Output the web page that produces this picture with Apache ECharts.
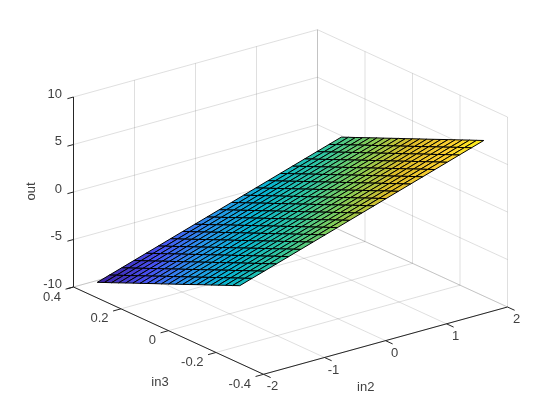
<!DOCTYPE html>
<html>
<head>
<meta charset="utf-8">
<style>html,body{margin:0;padding:0;background:#fff}#c{width:560px;height:420px}</style>
<script src="https://cdn.jsdelivr.net/npm/echarts@6/dist/echarts.min.js"></script>
</head>
<body>
<div id="c"></div>
<script>
const in2Ticks = [-2, -1, 0, 1, 2];
const in3Ticks = [-0.4, -0.2, 0, 0.2, 0.4];
const outTicks = [-10, -5, 0, 5, 10];
const in2Values = [-2, -1.8, -1.6, -1.4, -1.2, -1, -0.8, -0.6, -0.4, -0.2, 0, 0.2, 0.4, 0.6, 0.8, 1, 1.2, 1.4, 1.6, 1.8, 2];
const in3Values = [0.3, 0.27, 0.24, 0.21, 0.18, 0.15, 0.12, 0.09, 0.06, 0.03, 0, -0.03, -0.06, -0.09, -0.12, -0.15, -0.18, -0.21, -0.24, -0.27, -0.3];
// one row per in2 value, one column per in3 value
const outValues = [
[-8.36,-8.03,-7.71,-7.38,-7.05,-6.72,-6.40,-6.07,-5.74,-5.42,-5.09,-4.76,-4.44,-4.11,-3.78,-3.45,-3.13,-2.80,-2.47,-2.15,-1.82],
[-7.95,-7.62,-7.30,-6.97,-6.64,-6.31,-5.99,-5.66,-5.33,-5.01,-4.68,-4.35,-4.03,-3.70,-3.37,-3.04,-2.72,-2.39,-2.06,-1.74,-1.41],
[-7.54,-7.21,-6.89,-6.56,-6.23,-5.90,-5.58,-5.25,-4.92,-4.60,-4.27,-3.94,-3.62,-3.29,-2.96,-2.63,-2.31,-1.98,-1.65,-1.33,-1.00],
[-7.13,-6.80,-6.48,-6.15,-5.82,-5.49,-5.17,-4.84,-4.51,-4.19,-3.86,-3.53,-3.21,-2.88,-2.55,-2.22,-1.90,-1.57,-1.24,-0.92,-0.59],
[-6.72,-6.39,-6.07,-5.74,-5.41,-5.08,-4.76,-4.43,-4.10,-3.78,-3.45,-3.12,-2.80,-2.47,-2.14,-1.81,-1.49,-1.16,-0.83,-0.51,-0.18],
[-6.31,-5.98,-5.66,-5.33,-5.00,-4.67,-4.35,-4.02,-3.69,-3.37,-3.04,-2.71,-2.39,-2.06,-1.73,-1.40,-1.08,-0.75,-0.42,-0.10,0.23],
[-5.90,-5.57,-5.25,-4.92,-4.59,-4.26,-3.94,-3.61,-3.28,-2.96,-2.63,-2.30,-1.98,-1.65,-1.32,-0.99,-0.67,-0.34,-0.01,0.31,0.64],
[-5.49,-5.16,-4.84,-4.51,-4.18,-3.85,-3.53,-3.20,-2.87,-2.55,-2.22,-1.89,-1.57,-1.24,-0.91,-0.58,-0.26,0.07,0.40,0.72,1.05],
[-5.08,-4.75,-4.43,-4.10,-3.77,-3.44,-3.12,-2.79,-2.46,-2.14,-1.81,-1.48,-1.16,-0.83,-0.50,-0.17,0.15,0.48,0.81,1.13,1.46],
[-4.67,-4.34,-4.02,-3.69,-3.36,-3.03,-2.71,-2.38,-2.05,-1.73,-1.40,-1.07,-0.75,-0.42,-0.09,0.24,0.56,0.89,1.22,1.54,1.87],
[-4.26,-3.93,-3.61,-3.28,-2.95,-2.62,-2.30,-1.97,-1.64,-1.32,-0.99,-0.66,-0.34,-0.01,0.32,0.65,0.97,1.30,1.63,1.95,2.28],
[-3.85,-3.52,-3.20,-2.87,-2.54,-2.21,-1.89,-1.56,-1.23,-0.91,-0.58,-0.25,0.07,0.40,0.73,1.06,1.38,1.71,2.04,2.36,2.69],
[-3.44,-3.11,-2.79,-2.46,-2.13,-1.80,-1.48,-1.15,-0.82,-0.50,-0.17,0.16,0.48,0.81,1.14,1.47,1.79,2.12,2.45,2.77,3.10],
[-3.03,-2.70,-2.38,-2.05,-1.72,-1.39,-1.07,-0.74,-0.41,-0.09,0.24,0.57,0.89,1.22,1.55,1.88,2.20,2.53,2.86,3.18,3.51],
[-2.62,-2.29,-1.97,-1.64,-1.31,-0.98,-0.66,-0.33,0.00,0.32,0.65,0.98,1.30,1.63,1.96,2.29,2.61,2.94,3.27,3.59,3.92],
[-2.21,-1.88,-1.56,-1.23,-0.90,-0.57,-0.25,0.08,0.41,0.73,1.06,1.39,1.71,2.04,2.37,2.70,3.02,3.35,3.68,4.00,4.33],
[-1.80,-1.47,-1.15,-0.82,-0.49,-0.16,0.16,0.49,0.82,1.14,1.47,1.80,2.12,2.45,2.78,3.11,3.43,3.76,4.09,4.41,4.74],
[-1.39,-1.06,-0.74,-0.41,-0.08,0.25,0.57,0.90,1.23,1.55,1.88,2.21,2.53,2.86,3.19,3.52,3.84,4.17,4.50,4.82,5.15],
[-0.98,-0.65,-0.33,0.00,0.33,0.66,0.98,1.31,1.64,1.96,2.29,2.62,2.94,3.27,3.60,3.93,4.25,4.58,4.91,5.23,5.56],
[-0.57,-0.24,0.08,0.41,0.74,1.07,1.39,1.72,2.05,2.37,2.70,3.03,3.35,3.68,4.01,4.34,4.66,4.99,5.32,5.64,5.97],
[-0.16,0.17,0.49,0.82,1.15,1.48,1.80,2.13,2.46,2.78,3.11,3.44,3.76,4.09,4.42,4.75,5.07,5.40,5.73,6.05,6.38]
];
const in2Name = 'in2', in3Name = 'in3', outName = 'out';

// Orthographic view of the box: screen position of the near floor corner and the per-axis spans
const view = { ox: 263.5, oy: 374.3, in2: [244, -67.3], in3: [-190, -87.3], out: [0, -190] };
const parula = [[62,38,168],[72,82,244],[39,150,235],[8,181,208],[49,198,159],[129,204,89],[220,189,41],[252,207,48],[249,251,20]];
const INK = '#262626', GRID = 'rgba(38,38,38,0.15)', TEXT = '#404040', FONT = '13px "Liberation Sans", Arial, sans-serif';

function project(a, b, c) {
  const u = (a + 2) / 4, v = (b + 0.4) / 0.8, w = (c + 10) / 20;
  return [view.ox + u * view.in2[0] + v * view.in3[0] + w * view.out[0],
          view.oy + u * view.in2[1] + v * view.in3[1] + w * view.out[1]];
}
const flat = outValues.flat(), zMin = Math.min(...flat), zMax = Math.max(...flat);
function faceColor(z) {
  const t = Math.max(0, Math.min(1, (z - zMin) / (zMax - zMin))) * (parula.length - 1);
  const k = Math.min(parula.length - 2, Math.floor(t)), f = t - k;
  const c = parula[k].map((x, n) => Math.round(x + (parula[k + 1][n] - x) * f));
  return `rgb(${c[0]},${c[1]},${c[2]})`;
}

// grid lines on the floor and the two back walls
const gridSegs = [];
in2Ticks.forEach(a => {
  gridSegs.push([[a, -0.4, -10], [a, 0.4, -10]]);
  gridSegs.push([[a, 0.4, -10], [a, 0.4, 10]]);
});
in3Ticks.forEach(b => {
  gridSegs.push([[-2, b, -10], [2, b, -10]]);
  gridSegs.push([[2, b, -10], [2, b, 10]]);
});
outTicks.forEach(c => {
  gridSegs.push([[-2, 0.4, c], [2, 0.4, c]]);
  gridSegs.push([[2, -0.4, c], [2, 0.4, c]]);
});

// surface faces, back to front
const faces = [];
for (let i = in2Values.length - 2; i >= 0; i--) {
  for (let j = 0; j < in3Values.length - 1; j++) faces.push([i, j]);
}

// axis rulers
const axisSegs = [
  [[-2, 0.4, -10], [-2, 0.4, 10]],
  [[-2, 0.4, -10], [-2, -0.4, -10]],
  [[-2, -0.4, -10], [2, -0.4, -10]]
];
const tickSegs = [];
outTicks.forEach(c => tickSegs.push([[-2, 0.4, c], [-2.1, 0.4, c]]));
in3Ticks.forEach(b => tickSegs.push([[-2, b, -10], [-2.13, b, -10]]));
in2Ticks.forEach(a => tickSegs.push([[a, -0.4, -10], [a, -0.43, -10]]));

// tick labels and axis names
const labels = [];
outTicks.forEach(c => { const p = project(-2, 0.4, c); labels.push({ x: 62, y: p[1] - 3, t: String(c), a: 'right' }); });
in3Ticks.forEach(b => { const p = project(-2, b, -10); labels.push({ x: p[0] - 12.5, y: p[1] + 10, t: String(b), a: 'right' }); });
in2Ticks.forEach(a => { const p = project(a, -0.4, -10); labels.push({ x: p[0] + 9, y: p[1] + 12.5, t: String(a), a: 'center' }); });
labels.push({ x: 160, y: 382.7, t: in3Name, a: 'center' });
labels.push({ x: 365.7, y: 387, t: in2Name, a: 'center' });
labels.push({ x: 31, y: 191.5, t: outName, a: 'center', r: Math.PI / 2 });

function segSeries(segs, color, z) {
  return {
    type: 'custom', coordinateSystem: 'cartesian2d', silent: true, clip: false, z,
    data: segs.map((s, i) => [i, 0]),
    encode: { x: 0, y: 1 },
    renderItem(params, api) {
      const s = segs[api.value(0)];
      const p = api.coord(project(...s[0])), q = api.coord(project(...s[1]));
      return { type: 'line', shape: { x1: p[0], y1: p[1], x2: q[0], y2: q[1] }, style: { stroke: color, lineWidth: 1, fill: null } };
    }
  };
}

const chart = echarts.init(document.getElementById('c'), null, { renderer: 'canvas', width: 560, height: 420 });
chart.setOption({
  animation: false,
  backgroundColor: '#ffffff',
  grid: { left: 0, right: 0, top: 0, bottom: 0 },
  xAxis: { type: 'value', min: 0, max: 560, show: false },
  yAxis: { type: 'value', min: 0, max: 420, inverse: true, show: false },
  series: [
    segSeries(gridSegs, GRID, 1),
    {
      type: 'custom', coordinateSystem: 'cartesian2d', silent: true, clip: false, z: 2,
      data: faces,
      encode: { x: 0, y: 1 },
      renderItem(params, api) {
        const i = api.value(0), j = api.value(1);
        const corner = (r, s) => api.coord(project(in2Values[r], in3Values[s], outValues[r][s]));
        return {
          type: 'polygon',
          shape: { points: [corner(i, j), corner(i + 1, j), corner(i + 1, j + 1), corner(i, j + 1)] },
          style: { fill: faceColor(outValues[i][j]), stroke: '#000', lineWidth: 1 }
        };
      }
    },
    segSeries(axisSegs, INK, 3),
    segSeries(tickSegs, INK, 3),
    {
      type: 'custom', coordinateSystem: 'cartesian2d', silent: true, clip: false, z: 4,
      data: labels.map((l, i) => [i, 0]),
      encode: { x: 0, y: 1 },
      renderItem(params, api) {
        const l = labels[api.value(0)];
        const p = api.coord([l.x, l.y]);
        return {
          type: 'text', x: p[0], y: p[1], rotation: l.r || 0,
          style: { text: l.t, fill: TEXT, font: FONT, align: l.a, verticalAlign: 'middle' }
        };
      }
    }
  ]
});
</script>
</body>
</html>
